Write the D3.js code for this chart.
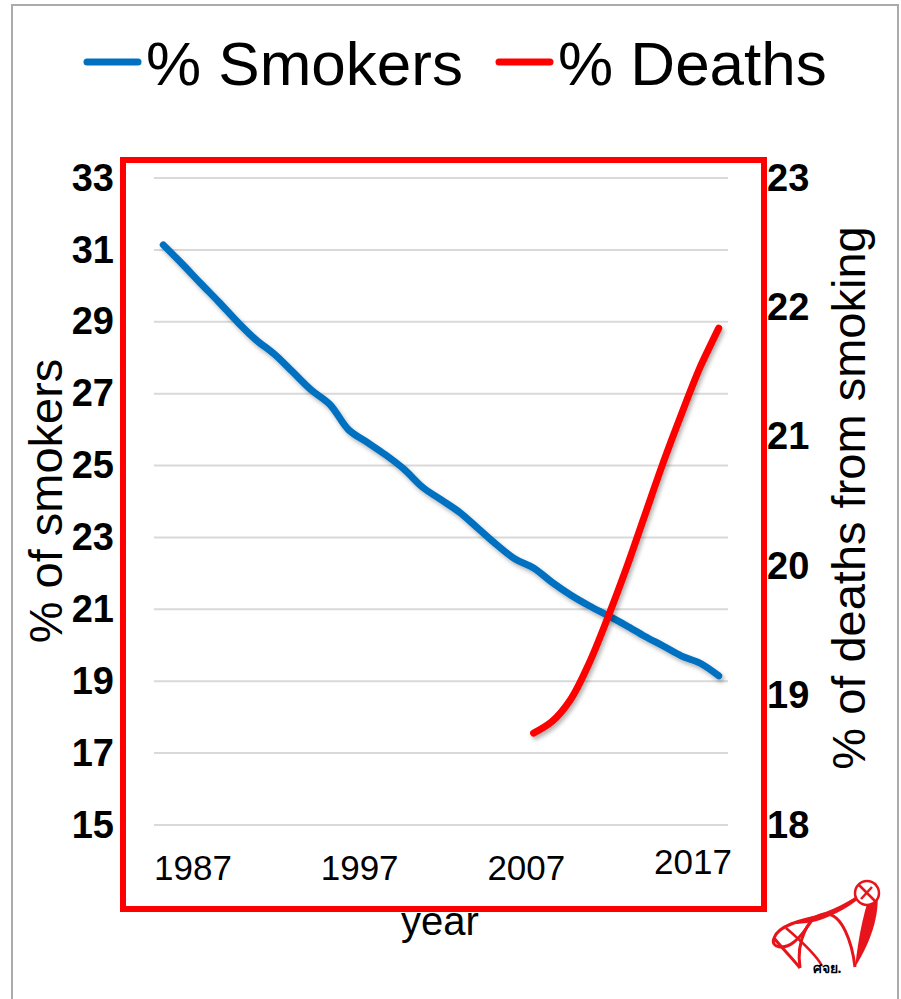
<!DOCTYPE html>
<html>
<head>
<meta charset="utf-8">
<script src="https://cdn.jsdelivr.net/npm/d3@7"></script>
<style>
  html, body { margin: 0; padding: 0; background: #fff; }
  svg { display: block; }
</style>
</head>
<body>
<svg id="chart" width="901" height="999"></svg>
<script>
// Share of adult smokers, 1987–2017
const smokerYears = d3.range(1987, 2018);
const smokerValues = [
  31.14, 30.62, 30.08, 29.55, 29.0, 28.5, 28.1, 27.6, 27.1, 26.7,
  26.0, 25.65, 25.3, 24.9, 24.4, 24.05, 23.7, 23.25, 22.8, 22.4,
  22.15, 21.75, 21.4, 21.1, 20.83, 20.55, 20.25, 19.98, 19.7, 19.5,
  19.15
];

// Share of deaths attributable to smoking, 2007–2017
const deathYears = d3.range(2007, 2018);
const deathValues = [18.71, 18.8, 18.97, 19.25, 19.6, 19.98, 20.39, 20.8, 21.18, 21.54, 21.84];

const leftTicks = [15, 17, 19, 21, 23, 25, 27, 29, 31, 33];
const rightTicks = [18, 19, 20, 21, 22, 23];
const yearLabels = ["1987", "1997", "2007", "2017"];

const seriesNames = ["% Smokers", "% Deaths"];
const seriesColors = ["#0070C0", "#FF0000"];

const svg = d3.select("#chart");

const plot = { left: 154, right: 728, top: 178, bottom: 825 };

// Category-style x axis: each year occupies one slot, points sit mid-slot
const x = d3.scaleLinear().domain([1986.5, 2017.5]).range([plot.left, plot.right]);
const yL = d3.scaleLinear().domain([15, 33]).range([plot.bottom, plot.top]);
const yR = d3.scaleLinear().domain([18, 23]).range([plot.bottom, plot.top]);
const xLabel = d3.scalePoint().domain(yearLabels).range([193, 693]);

// Slide border
svg.append("path")
  .attr("d", "M12,999 V5 H898 V999")
  .attr("fill", "none")
  .attr("stroke", "#ababab")
  .attr("stroke-width", 2);

// Soft shadow under the series lines
const defs = svg.append("defs");
const shadow = defs.append("filter").attr("id", "lineShadow")
  .attr("x", "-10%").attr("y", "-10%").attr("width", "120%").attr("height", "120%");
shadow.append("feDropShadow")
  .attr("dx", 2).attr("dy", 3).attr("stdDeviation", 2)
  .attr("flood-color", "#000").attr("flood-opacity", 0.3);

// Gridlines
svg.append("g").selectAll("line")
  .data(leftTicks)
  .join("line")
  .attr("x1", plot.left).attr("x2", plot.right)
  .attr("y1", d => yL(d)).attr("y2", d => yL(d))
  .attr("stroke", "#d9d9d9")
  .attr("stroke-width", 2);

// Red frame around the plot area
svg.append("rect")
  .attr("x", 123).attr("y", 160)
  .attr("width", 641).attr("height", 749)
  .attr("fill", "none")
  .attr("stroke", "#FF0000")
  .attr("stroke-width", 6);

// Left axis
const leftAxis = svg.append("g")
  .attr("transform", "translate(114,0)")
  .call(d3.axisLeft(yL).tickValues(leftTicks).tickSize(0).tickPadding(0).tickFormat(d3.format("d")));
leftAxis.select(".domain").remove();
leftAxis.selectAll("text")
  .attr("font-family", "Liberation Sans, Arial, sans-serif")
  .attr("font-weight", "bold")
  .attr("font-size", 38)
  .attr("fill", "#000");

// Right axis
const rightAxis = svg.append("g")
  .attr("transform", "translate(767,0)")
  .call(d3.axisRight(yR).tickValues(rightTicks).tickSize(0).tickPadding(0).tickFormat(d3.format("d")));
rightAxis.select(".domain").remove();
rightAxis.selectAll("text")
  .attr("font-family", "Liberation Sans, Arial, sans-serif")
  .attr("font-weight", "bold")
  .attr("font-size", 38)
  .attr("fill", "#000");

// Year labels along the bottom
svg.append("g").selectAll("text")
  .data(yearLabels)
  .join("text")
  .attr("x", d => xLabel(d))
  .attr("y", (d, i) => i === yearLabels.length - 1 ? 874 : 880)
  .attr("text-anchor", "middle")
  .attr("font-family", "Liberation Sans Narrow, Arial Narrow, sans-serif")
  .attr("font-size", 35)
  .attr("fill", "#000")
  .text(d => d);

// Series lines
const smokerLine = d3.line()
  .x((d, i) => x(smokerYears[i]))
  .y(d => yL(d))
  .curve(d3.curveCatmullRom.alpha(0.5));

const deathLine = d3.line()
  .x((d, i) => x(deathYears[i]))
  .y(d => yR(d))
  .curve(d3.curveCatmullRom.alpha(0.5));

svg.append("path")
  .datum(smokerValues)
  .attr("d", smokerLine)
  .attr("fill", "none")
  .attr("stroke", seriesColors[0])
  .attr("stroke-width", 7)
  .attr("stroke-linecap", "round")
  .attr("stroke-linejoin", "round")
  .attr("filter", "url(#lineShadow)");

svg.append("path")
  .datum(deathValues)
  .attr("d", deathLine)
  .attr("fill", "none")
  .attr("stroke", seriesColors[1])
  .attr("stroke-width", 7)
  .attr("stroke-linecap", "round")
  .attr("stroke-linejoin", "round")
  .attr("filter", "url(#lineShadow)");

// Axis titles
svg.append("text")
  .attr("transform", "translate(62,501) rotate(-90)")
  .attr("text-anchor", "middle")
  .attr("font-family", "Liberation Sans, Arial, sans-serif")
  .attr("font-size", 47)
  .attr("fill", "#000")
  .text("% of smokers");

svg.append("text")
  .attr("transform", "translate(865,498) rotate(-90)")
  .attr("text-anchor", "middle")
  .attr("font-family", "Liberation Sans, Arial, sans-serif")
  .attr("font-size", 47)
  .attr("fill", "#000")
  .text("% of deaths from smoking");

svg.append("text")
  .attr("x", 440).attr("y", 935)
  .attr("text-anchor", "middle")
  .attr("font-family", "Liberation Sans, Arial, sans-serif")
  .attr("font-size", 40)
  .attr("fill", "#000")
  .text("year");

// Legend
const legendItems = [
  { name: seriesNames[0], color: seriesColors[0], x: 87 },
  { name: seriesNames[1], color: seriesColors[1], x: 499 }
];
const legend = svg.append("g").selectAll("g")
  .data(legendItems)
  .join("g")
  .attr("transform", d => `translate(${d.x},0)`);
legend.append("line")
  .attr("x1", 0).attr("x2", 51)
  .attr("y1", 62).attr("y2", 62)
  .attr("stroke", d => d.color)
  .attr("stroke-width", 7)
  .attr("stroke-linecap", "round");
legend.append("text")
  .attr("x", 59).attr("y", 85)
  .attr("font-family", "Liberation Sans, Arial, sans-serif")
  .attr("font-size", 62)
  .attr("fill", "#000")
  .text(d => d.name);

// Organisation mark, lower right (heart of sweeping ribbons with a no-smoking disc)
const logo = svg.append("g").attr("transform", "translate(760,850)");
const red = "#E8141B";
// thick right lobe, tapering to the bottom tip
logo.append("path")
  .attr("d", "M95,117 C112,90 122,60 116,32 C104,55 99,85 95,117 Z")
  .attr("fill", red);
// broad ribbon from the disc down to the left
logo.append("path")
  .attr("d", "M112,36 C95,48 78,58 60,64 C48,68 40,70 32,74 C45,74 58,72 70,66 C88,58 102,48 112,36 Z")
  .attr("fill", red);
// inner heart arch
logo.append("path")
  .attr("d", "M40,118 C36,92 48,64 66,64 C82,64 92,92 95,117")
  .attr("fill", "none").attr("stroke", red).attr("stroke-width", 3);
// left loop
logo.append("path")
  .attr("d", "M60,66 C40,70 18,76 14,88 C10,98 24,100 34,92 C42,86 48,76 52,70")
  .attr("fill", "none").attr("stroke", red).attr("stroke-width", 3);
logo.append("path")
  .attr("d", "M14,88 C22,98 32,108 40,118")
  .attr("fill", "none").attr("stroke", red).attr("stroke-width", 3);
logo.append("path")
  .attr("d", "M26,78 C40,90 56,104 62,116")
  .attr("fill", "none").attr("stroke", red).attr("stroke-width", 2.5);
// no-smoking disc
logo.append("circle")
  .attr("cx", 107).attr("cy", 43).attr("r", 12)
  .attr("fill", "#fff").attr("stroke", red).attr("stroke-width", 2.5);
logo.append("path")
  .attr("d", "M99,35 L115,51 M101,49 L112,37")
  .attr("stroke", red).attr("stroke-width", 2.5).attr("fill", "none");
logo.append("text")
  .attr("x", 67).attr("y", 123)
  .attr("text-anchor", "middle")
  .attr("font-family", "Noto Sans, DejaVu Sans, sans-serif")
  .attr("font-weight", "bold")
  .attr("font-size", 14)
  .attr("fill", "#000")
  .text("ศจย.");
</script>
</body>
</html>
